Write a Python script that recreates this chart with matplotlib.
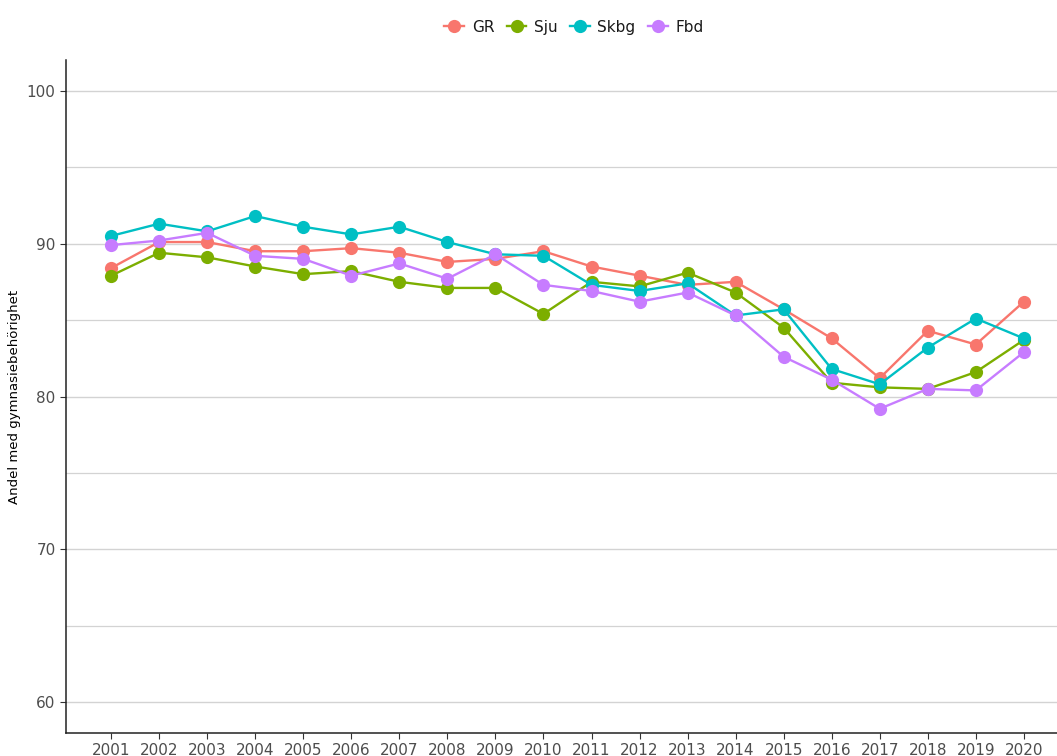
import numpy as np
import matplotlib
matplotlib.use("Agg")
import matplotlib.pyplot as plt
from matplotlib.ticker import MultipleLocator

# years and series values
years = np.arange(2001, 2021)
gr = [88.4, 90.1, 90.1, 89.5, 89.5, 89.7, 89.4, 88.8, 89.0, 89.5,
      88.5, 87.9, 87.3, 87.5, 85.7, 83.8, 81.2, 84.3, 83.4, 86.2]
sju = [87.9, 89.4, 89.1, 88.5, 88.0, 88.2, 87.5, 87.1, 87.1, 85.4,
       87.5, 87.2, 88.1, 86.8, 84.5, 80.9, 80.6, 80.5, 81.6, 83.7]
skbg = [90.5, 91.3, 90.8, 91.8, 91.1, 90.6, 91.1, 90.1, 89.3, 89.2,
        87.3, 86.9, 87.4, 85.3, 85.7, 81.8, 80.8, 83.2, 85.1, 83.8]
fbd = [89.9, 90.2, 90.7, 89.2, 89.0, 87.9, 88.7, 87.7, 89.3, 87.3,
       86.9, 86.2, 86.8, 85.3, 82.6, 81.1, 79.2, 80.5, 80.4, 82.9]

names = ["GR", "Sju", "Skbg", "Fbd"]
series = [gr, sju, skbg, fbd]
colors = ["#F8766D", "#7CAE00", "#00BFC4", "#C77CFF"]

fig = plt.figure(figsize=(10.57, 7.56), dpi=100)
ax = fig.add_axes([0.0624, 0.0304, 0.9376, 0.8902])

for name, vals, c in zip(names, series, colors):
    ax.plot(years, vals, color=c, lw=1.7, marker="o", markersize=9.5,
            markeredgewidth=0, label=name)

ax.set_ylim(58, 102)
ax.set_xlim(2000.06, 2020.69)
ax.set_xticks(years)
ax.yaxis.set_major_locator(MultipleLocator(10))
ax.yaxis.set_minor_locator(MultipleLocator(5))

# horizontal grid only, major and minor
ax.grid(axis="y", which="major", color="#D3D3D3", lw=1)
ax.grid(axis="y", which="minor", color="#D3D3D3", lw=0.9)
ax.set_axisbelow(True)

for s in ["top", "right"]:
    ax.spines[s].set_visible(False)
for s in ["left", "bottom"]:
    ax.spines[s].set_color("#222222")
    ax.spines[s].set_linewidth(1.1)

ax.tick_params(axis="both", which="major", length=4, color="#333333",
               labelsize=11, labelcolor="#4D4D4D")
ax.tick_params(axis="y", which="minor", length=0)
ax.set_ylabel("Andel med gymnasiebehörighet", fontsize=9.5, color="black")

leg = fig.legend(loc="center", bbox_to_anchor=(0.543, 0.964), ncol=4,
                 frameon=False, fontsize=11, handlelength=1.3,
                 columnspacing=0.8, handletextpad=0.5)
for t in leg.get_texts():
    t.set_color("#1A1A1A")

fig.savefig("out.png", dpi=100)
